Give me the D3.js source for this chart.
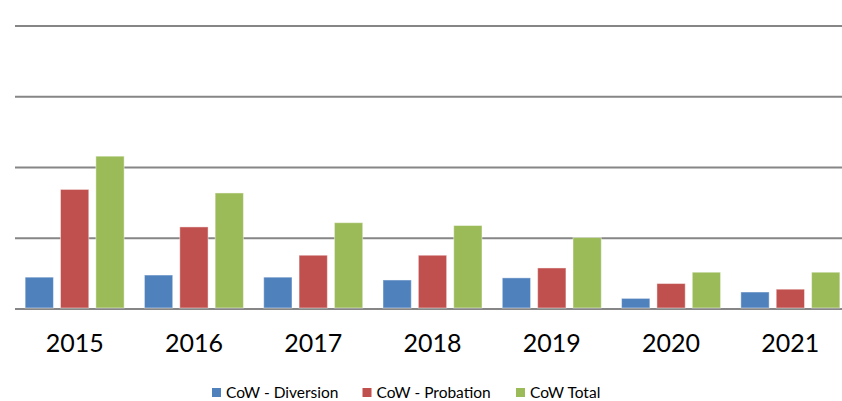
<!DOCTYPE html>
<html>
<head>
<meta charset="utf-8">
<script src="https://cdn.jsdelivr.net/npm/d3@7"></script>
<style>
  body { margin: 0; background: #fff; }
  svg { display: block; }
</style>
</head>
<body>
<script>
// values (one gridline = 100)
let years = ['2015', '2016', '2017', '2018', '2019', '2020', '2021'];
let diversion = [45, 48, 45, 41, 44, 15, 24];
let probation = [169, 116, 76, 76, 58, 36, 28];
let total = [216, 164, 122, 118, 101, 52, 52];
let seriesNames = ['CoW - Diversion', 'CoW - Probation', 'CoW Total'];
let colors = ['#4F81BD', '#C0504D', '#9BBB59'];
let gridTicks = [0, 100, 200, 300, 400];

let width = 842;
let height = 401;
let margin = { left: 15, right: -8, top: 26, bottom: 92 };

let svg = d3.select('body')
  .append('svg')
  .attr('width', width)
  .attr('height', height);

let innerW = width - margin.left - margin.right;
let innerH = height - margin.top - margin.bottom;

let x = d3.scaleBand()
  .domain(years)
  .range([0, innerW])
  .paddingInner(0.17)
  .paddingOuter(0.085);

let x1 = d3.scaleBand()
  .domain(seriesNames)
  .range([0, x.bandwidth()])
  .paddingInner(0.2)
  .paddingOuter(0);

let y = d3.scaleLinear()
  .domain([0, 400])
  .range([innerH, 0]);

let chartGroup = svg.append('g')
  .attr('transform', 'translate(' + margin.left + ',' + margin.top + ')');

// gridlines
chartGroup.append('g')
  .selectAll('line')
  .data(gridTicks)
  .enter()
  .append('line')
  .attr('x1', 0)
  .attr('x2', width)
  .attr('y1', function (d) { return y(d); })
  .attr('y2', function (d) { return y(d); })
  .attr('stroke', '#868686')
  .attr('stroke-width', 2);

let rows = years.map(function (yr, i) {
  return { year: yr, values: [diversion[i], probation[i], total[i]] };
});

let groups = chartGroup.selectAll('.year')
  .data(rows)
  .enter()
  .append('g')
  .attr('class', 'year')
  .attr('transform', function (d) { return 'translate(' + x(d.year) + ',0)'; });

groups.selectAll('rect')
  .data(function (d) {
    return d.values.map(function (v, j) { return { name: seriesNames[j], value: v, color: colors[j] }; });
  })
  .enter()
  .append('rect')
  .attr('x', function (d) { return x1(d.name); })
  .attr('y', function (d) { return y(d.value); })
  .attr('width', x1.bandwidth())
  .attr('height', function (d) { return y(0) - y(d.value) - 1; })
  .attr('fill', function (d) { return d.color; })
  .attr('stroke', 'rgba(255,255,255,0.45)')
  .attr('stroke-width', 1);

// x labels
let xAxis = d3.axisBottom(x).tickSize(0).tickPadding(0);
let xg = chartGroup.append('g')
  .attr('transform', 'translate(0,' + innerH + ')')
  .call(xAxis);
xg.select('.domain').remove();
xg.selectAll('text')
  .attr('dy', null)
  .attr('y', 43)
  .style('font-family', 'Lato, "Open Sans", sans-serif')
  .style('font-size', '25px')
  .attr('fill', '#000');

// legend
let legendX = [212, 362.5, 516];
let legend = svg.append('g')
  .selectAll('g')
  .data(seriesNames)
  .enter()
  .append('g')
  .attr('transform', function (d, i) { return 'translate(' + legendX[i] + ',388)'; });

legend.append('rect')
  .attr('width', 9)
  .attr('height', 9)
  .attr('fill', function (d, i) { return colors[i]; });

legend.append('text')
  .attr('x', 14)
  .attr('y', 9.5)
  .style('font-family', 'Lato, "Open Sans", sans-serif')
  .style('font-size', '15.5px')
  .attr('fill', '#000')
  .text(function (d) { return d; });
</script>
</body>
</html>
